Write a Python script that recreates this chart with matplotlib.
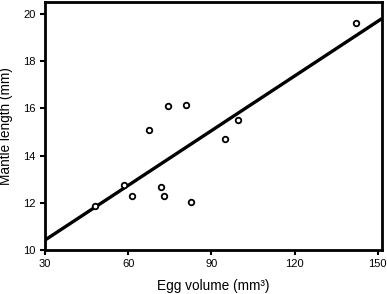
import matplotlib
matplotlib.use("Agg")
import matplotlib.pyplot as plt

plt.rcParams['font.family'] = ['Liberation Sans', 'DejaVu Sans']

egg_volume = [48, 58.5, 61.5, 72, 72.8, 82.5, 67.5, 74.3, 81, 99.5, 95, 142.2]
mantle_length = [11.85, 12.75, 12.3, 12.65, 12.3, 12.02, 15.1, 16.1, 16.13, 15.5, 14.7, 19.62]
fit_x = [30, 151.5]
fit_y = [10.42, 19.8]
x_ticks = [30, 60, 90, 120, 150]
y_ticks = [10, 12, 14, 16, 18, 20]

fig = plt.figure(figsize=(3.87, 2.94), dpi=100)
ax = fig.add_axes([45/387, 1-250/294, (382-45)/387, (250-2)/294])
ax.plot(fit_x, fit_y, color='black', lw=2.4, solid_capstyle='butt', zorder=2)
ax.plot(egg_volume, mantle_length, 'o', mfc='white', mec='black', ms=4, mew=1.3, zorder=3)
ax.set_xlim(30, 151.5)
ax.set_ylim(10, 20.5)
ax.set_xticks(x_ticks)
ax.set_yticks(y_ticks)
for s in ax.spines.values():
    s.set_linewidth(2)
ax.tick_params(direction='out', length=3.8, width=1.5, labelsize=8, pad=3)
ax.set_xlabel('Egg volume (mm³)', fontsize=9.8, labelpad=7)
ax.set_ylabel('Mantle length (mm)', fontsize=9.8, labelpad=7)
fig.savefig('out.png', dpi=100)
